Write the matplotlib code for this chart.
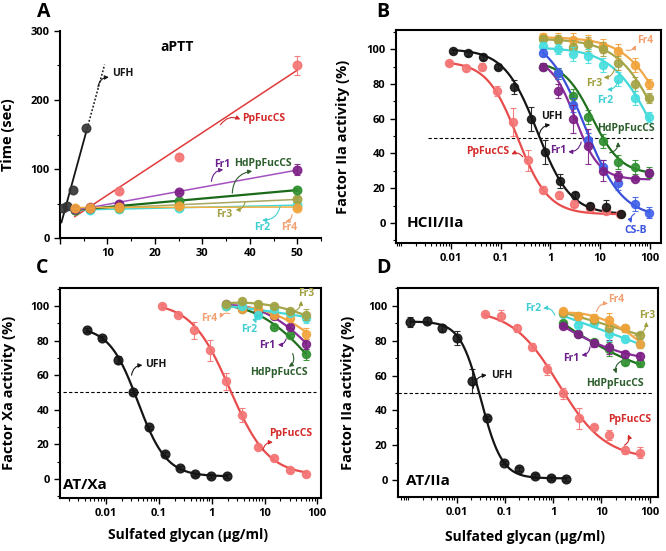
import numpy as np
import matplotlib
matplotlib.use('Agg')
import matplotlib.pyplot as plt
from matplotlib.ticker import FixedLocator, FixedFormatter, NullFormatter

plt.rcParams['font.family'] = ['Open Sans', 'DejaVu Sans']
plt.rcParams['font.weight'] = 'bold'
plt.rcParams['axes.labelweight'] = 'bold'
plt.rcParams['axes.linewidth'] = 1.5

# ---------------- Panel A (aPTT) ----------------
a_ufh_x = [0.6, 1.5, 2.7, 5.5]
a_ufh_y = [43, 46, 70, 160]
a_ufh_ext = 9.4
a_conc = [3.125, 6.25, 12.5, 25, 50]
a_pp = [42, 45, 68, 118, 250]
a_pp_err = [0, 0, 3, 4, 14]
a_fr1 = [42, 44, 50, 67, 99]
a_fr1_err = [0, 0, 2, 2, 8]
a_hd = [41, 43, 46, 53, 70]
a_hd_err = [0, 0, 1, 2, 2]
a_fr3 = [41, 43, 44, 48, 56]
a_fr3_err = [0, 0, 1, 1, 4]
a_fr2 = [41, 41, 42, 43, 48]
a_fr2_err = [0, 0, 1, 1, 2]
a_fr4 = [43, 44, 45, 46, 44]
a_fr4_err = [0, 0, 1, 1, 2]

# ---------------- Panel B (HCII/IIa) ----------------
b_ufh_x = [0.011, 0.022, 0.045, 0.09, 0.19, 0.4, 0.8, 1.6, 3.2, 6.4, 13, 26]
b_ufh_y = [99, 97.5, 95.5, 90, 78, 60, 41, 24, 16, 10, 9, 5]
b_ufh_err = [1, 1.5, 1.5, 1.5, 4, 7, 7, 4, 2, 1.5, 4, 1]
b_pp_x = [0.0093, 0.020, 0.042, 0.085, 0.177, 0.355, 0.71, 1.47, 2.96, 6.2, 13, 25.8]
b_pp_y = [92, 89, 90, 76, 58, 36, 19, 16, 11, 8.5, 7, 5]
b_pp_err = [1, 1.5, 2, 3, 8, 6, 2, 2, 2, 1.5, 1.5, 1]
b_frac_x = [0.70, 1.45, 2.9, 5.8, 11.7, 23.5, 51, 99]
b_fr4 = [107, 106, 105, 104, 102, 99, 91, 80]
b_fr3 = [106, 105, 101, 103, 100, 92, 80, 72]
b_fr2 = [102, 100, 97, 96, 91, 83, 72, 61]
b_csb = [98, 86, 68, 48, 32, 23, 11, 6]
b_fr1 = [90, 76, 60, 44, 30, 27, 25.5, 29]
b_hd = [90, 86, 73, 61, 47, 35, 32, 29]
b_frac_err = [2, 3, 4, 4, 4, 4, 4, 3]
b_fr1_err = [2, 4, 8, 10, 6, 3, 1, 2]
# 4-parameter logistic fits: top, bottom, IC50, Hill slope
b_fit_ufh = (100, 5, 0.55, 1.3)
b_fit_pp = (93, 5, 0.22, 1.4)
b_fit_fr4 = (107, 0, 300, 1.0)
b_fit_fr3 = (106, 0, 190, 1.0)
b_fit_fr2 = (101, 0, 140, 1.0)
b_fit_csb = (108, 3, 5, 1.15)
b_fit_fr1 = (95, 25, 3.2, 1.8)
b_fit_hd = (93, 28, 7, 1.5)

# ---------------- Panel C (AT/Xa) ----------------
c_ufh_x = [0.0044, 0.0085, 0.017, 0.033, 0.065, 0.13, 0.25, 0.49, 0.99, 1.95]
c_ufh_y = [86, 81.5, 69, 50.4, 29.8, 14.4, 6.5, 2.7, 1.7, 1.7]
c_ufh_err = [1, 1, 2, 1, 1, 1, 1, 1, 1, 1]
c_pp_x = [0.117, 0.234, 0.47, 0.94, 1.875, 3.75, 7.5, 15, 30, 60]
c_pp_y = [100, 95, 86, 74.4, 56.5, 37, 18.6, 12, 5, 2.7]
c_pp_err = [1, 1, 5, 6, 5, 4, 1, 1, 1, 1]
c_fit_ufh = (88, 1.5, 0.04, 1.6)
c_fit_pp = (102, 2, 2.2, 1.2)
c_frac_x = [1.875, 3.75, 7.5, 15, 30, 60]
c_fr3 = [101, 103, 101, 100, 97, 95]
c_fr2 = [100, 100, 95, 98, 96, 93]
c_fr4 = [100, 98, 98, 95, 93, 84]
c_fr1 = [101, 99, 97, 94, 88, 78]
c_hd = [100, 98, 96, 88, 83, 72]
c_frac_err = [1, 1, 2, 1, 1, 3]

# ---------------- Panel D (AT/IIa) ----------------
d_ufh_x = [0.0011, 0.0024, 0.0049, 0.0103, 0.021, 0.043, 0.095, 0.2, 0.42, 0.88, 1.8]
d_ufh_y = [90.8, 91.4, 87, 81.6, 56.8, 35.8, 10, 6.3, 2.3, 1.3, 0.6]
d_ufh_err = [3, 2, 2, 4, 7, 1, 1, 1, 1, 1, 1]
d_pp_x = [0.039, 0.083, 0.174, 0.37, 0.76, 1.61, 3.4, 6.9, 14.4, 30, 64]
d_pp_y = [95, 94.3, 87, 76.5, 63.5, 49.7, 35.4, 30.6, 25.8, 17.2, 15.7]
d_pp_err = [1, 3, 2, 2, 3, 3, 6, 1, 3, 2, 3]
d_fit_ufh = (91, 1, 0.032, 2.0)
d_fit_pp = (98, 12, 1.3, 0.9)
d_frac_x = [1.56, 3.3, 6.9, 14.4, 30, 64]
d_fr4 = [97, 94, 93, 92, 87, 78]
d_fr3 = [96, 94, 92, 87, 87, 83]
d_fr2 = [95, 89, 90, 84, 81, 78]
d_fr1 = [88.5, 83.6, 78.4, 76.5, 72.3, 71]
d_hd = [90, 84, 79, 75, 68, 67]
d_frac_err = [1, 1, 2, 4, 2, 2]

# ---------------- colours ----------------
C_UFH = '#151515'
C_PP_M, C_PP_L, C_PP_T = '#f47474', '#e84c4c', '#d42a2a'
C_FR1_M, C_FR1_L, C_FR1_T = '#7d1f86', '#8a2d9a', '#6a1f8a'
C_HD_M, C_HD_L, C_HD_T = '#2f8f2f', '#1f6f1f', '#2d5e2d'
C_FR3_M, C_FR3_L, C_FR3_T = '#a3a344', '#a5a54a', '#a0a040'
C_FR2_M, C_FR2_L, C_FR2_T = '#46dede', '#44d8d8', '#3fcfd0'
C_FR4_M, C_FR4_L, C_FR4_T = '#f2a33a', '#f0a848', '#f2a070'
C_CSB_M, C_CSB_L, C_CSB_T = '#4060e8', '#3a50d8', '#3a55e0'

LAB_FS = 10.5


def logistic(x, p):
    top, bottom, ic50, h = p
    x = np.asarray(x, dtype=float)
    return bottom + (top - bottom) / (1.0 + (x / ic50) ** h)


def pts(ax, x, y, err, mc, ms=5.8, z=3, alpha=0.9):
    ax.errorbar(x, y, yerr=err, fmt='o', ms=ms, mfc=mc, mec=mc, ecolor=mc,
                elinewidth=0.8, capsize=2, capthick=0.8, alpha=alpha, zorder=z)


def label(ax, text, pos, tail, head, color, rad=0.35, fs=7.5, ha='center'):
    ax.text(pos[0], pos[1], text, color=color, fontsize=fs, ha=ha, va='center',
            fontweight='bold', zorder=10)
    ax.annotate('', xy=head, xytext=tail,
                arrowprops=dict(arrowstyle='-|>', color=color, lw=0.8,
                                mutation_scale=6, shrinkA=0, shrinkB=0,
                                connectionstyle='arc3,rad=%s' % rad), zorder=10)


def log_axis(ax, xlim):
    ax.set_xscale('log')
    ax.set_xlim(*xlim)
    majors = [0.01, 0.1, 1, 10, 100]
    ax.xaxis.set_major_locator(FixedLocator(majors))
    ax.xaxis.set_major_formatter(FixedFormatter(['0.01', '0.1', '1', '10', '100']))
    minors = [m * 10.0 ** k for k in range(-4, 3) for m in range(1, 10)
              if not (m == 1 and k >= -2)]
    ax.xaxis.set_minor_locator(FixedLocator(minors))
    ax.xaxis.set_minor_formatter(NullFormatter())
    ax.yaxis.set_major_locator(FixedLocator([0, 20, 40, 60, 80, 100]))
    ax.yaxis.set_minor_locator(FixedLocator([-10, 10, 30, 50, 70, 90, 110]))
    ax.tick_params(which='major', direction='out', length=4, width=1.0,
                   labelsize=8, top=False, right=False)
    ax.tick_params(which='minor', direction='out', length=2.2, width=0.8,
                   top=False, right=False)


def curve(ax, xmin, xmax, p, color, lw=1.6, z=2):
    xx = np.logspace(np.log10(xmin), np.log10(xmax), 200)
    ax.plot(xx, logistic(xx, p), color=color, lw=lw, zorder=z)


def poly_curve(ax, x, y, color, lw=1.6, z=2):
    lx = np.log10(x)
    c = np.polyfit(lx, y, 2)
    xx = np.linspace(lx[0], lx[-1], 100)
    ax.plot(10 ** xx, np.polyval(c, xx), color=color, lw=lw, zorder=z)


fig = plt.figure(figsize=(6.66, 5.51), dpi=100)
W, H = 666.0, 551.0
axA = fig.add_axes([60 / W, 1 - 238 / H, 261 / W, 207 / H])
axB = fig.add_axes([396 / W, 1 - 243 / H, 265 / W, 213 / H])
axC = fig.add_axes([60 / W, 1 - 498 / H, 261 / W, 210 / H])
axD = fig.add_axes([398 / W, 1 - 497 / H, 260 / W, 209 / H])

# ================= A =================
ax = axA
ax.set_xlim(0, 55)
ax.set_ylim(0, 300)
ax.spines['top'].set_visible(False)
ax.spines['right'].set_visible(False)
ax.xaxis.set_major_locator(FixedLocator([0, 10, 20, 30, 40, 50]))
ax.xaxis.set_major_formatter(FixedFormatter(['', '10', '20', '30', '40', '50']))
ax.xaxis.set_minor_locator(FixedLocator([5, 15, 25, 35, 45, 55]))
ax.yaxis.set_major_locator(FixedLocator([0, 100, 200, 300]))
ax.yaxis.set_minor_locator(FixedLocator([50, 150, 250]))
ax.tick_params(which='major', direction='out', length=4, width=1.0, labelsize=8)
ax.tick_params(which='minor', direction='out', length=2.5, width=0.8)

ca = np.polyfit(a_ufh_x, a_ufh_y, 1)
xs = np.linspace(0.3, a_ufh_x[-1], 20)
ax.plot(xs, np.polyval(ca, xs), color=C_UFH, lw=1.3, zorder=2)
xs = np.linspace(a_ufh_x[-1], a_ufh_ext, 20)
ax.plot(xs, np.polyval(ca, xs), color=C_UFH, lw=1.1, ls=(0, (1.2, 1.2)), zorder=2)
pts(ax, a_ufh_x, a_ufh_y, None, '#333333', ms=6.2)

series_A = [(a_pp, a_pp_err, C_PP_M, '#e03a3a', 1.1),
            (a_fr2, a_fr2_err, C_FR2_M, C_FR2_L, 1.1),
            (a_fr3, a_fr3_err, C_FR3_M, '#a8a860', 1.1),
            (a_hd, a_hd_err, C_HD_M, '#1a6a1a', 1.6),
            (a_fr1, a_fr1_err, C_FR1_M, '#a550c0', 1.1),
            (a_fr4, a_fr4_err, C_FR4_M, '#f0b040', 1.1)]
for i, (vals, err, mc, lc, lw) in enumerate(series_A):
    cf = np.polyfit(a_conc, vals, 1)
    xs = np.linspace(a_conc[0], a_conc[-1], 20)
    ax.plot(xs, np.polyval(cf, xs), color=lc, lw=lw, zorder=2 + i * 0.1)
    pts(ax, a_conc, vals, err, mc, ms=6.2, z=3 + i * 0.1)

ax.text(24.7, 277, 'aPTT', fontsize=10, ha='center', va='center')
label(ax, 'UFH', (10.9, 238), (8.0, 219), (10.3, 233), C_UFH, rad=-0.4, ha='left')
label(ax, 'PpFucCS', (38.4, 173), (33.8, 164), (38.0, 172), C_PP_T, rad=-0.4, ha='left')
label(ax, 'Fr1', (34.2, 107), (31.9, 82), (34.4, 99), C_FR1_T, rad=-0.4)
label(ax, 'HdPpFucCS', (42.7, 108), (36.3, 65), (40.5, 97), C_HD_T, rad=-0.4)
label(ax, 'Fr3', (34.5, 34), (39.0, 52), (37.0, 41), C_FR3_T, rad=-0.4)
label(ax, 'Fr2', (42.6, 14.5), (46.4, 46), (42.6, 26), C_FR2_T, rad=-0.4)
label(ax, 'Fr4', (48.2, 14.5), (48.9, 34), (47.5, 24), C_FR4_T, rad=-0.4)
ax.set_ylabel('Time (sec)', fontsize=LAB_FS)
ax.yaxis.set_label_coords(-0.172, 0.5)

# ================= B =================
ax = axB
log_axis(ax, (7.8e-4, 170))
ax.set_ylim(-11.5, 111)
ax.axhline(49, xmin=0.12, xmax=0.97, color='k', lw=0.8, ls=(0, (3, 2)), zorder=1)
curve(ax, 0.011, 28, b_fit_ufh, C_UFH)
curve(ax, 0.0093, 26, b_fit_pp, C_PP_L)
pts(ax, b_pp_x, b_pp_y, b_pp_err, C_PP_M)
pts(ax, b_ufh_x, b_ufh_y, b_ufh_err, C_UFH)
fracB = [(b_fr4, b_fit_fr4, C_FR4_M, C_FR4_L, b_frac_err),
         (b_fr3, b_fit_fr3, C_FR3_M, C_FR3_L, b_frac_err),
         (b_fr2, b_fit_fr2, C_FR2_M, C_FR2_L, b_frac_err),
         (b_hd, b_fit_hd, C_HD_M, C_HD_L, b_frac_err),
         (b_csb, b_fit_csb, C_CSB_M, C_CSB_L, b_frac_err),
         (b_fr1, b_fit_fr1, C_FR1_M, C_FR1_L, b_fr1_err)]
for i, (vals, fit, mc, lc, err) in enumerate(fracB):
    curve(ax, b_frac_x[0], b_frac_x[-1], fit, lc, z=2 + i * 0.1)
    pts(ax, b_frac_x, vals, err, mc, z=3 + i * 0.1)
label(ax, 'UFH', (1.06, 61), (0.59, 49.5), (1.0, 56.5), C_UFH, rad=-0.4)
label(ax, 'PpFucCS', (0.055, 41), (0.28, 38), (0.165, 39.5), C_PP_T, rad=0.4)
label(ax, 'Fr1', (1.43, 41.5), (4.2, 46.6), (2.3, 41), C_FR1_T, rad=-0.4)
label(ax, 'HdPpFucCS', (34, 54.3), (15.7, 40.3), (23.2, 46.6), C_HD_T, rad=0.4)
label(ax, 'Fr2', (12.9, 70.6), (23.2, 82), (13.9, 76.8), C_FR2_T, rad=-0.4)
label(ax, 'Fr3', (7.5, 80.2), (19.8, 89), (11.9, 83.7), C_FR3_T, rad=-0.4)
label(ax, 'Fr4', (80, 105.2), (34, 99.4), (52.7, 102.3), C_FR4_T, rad=0.4)
label(ax, 'CS-B', (51.8, -4.2), (50.3, 5.4), (43, 0), C_CSB_T, rad=0.4)
ax.text(0.04, 0.095, 'HCII/IIa', transform=ax.transAxes, fontsize=11,
        ha='left', va='center')
ax.set_ylabel('Factor IIa activity (%)', fontsize=LAB_FS)
ax.yaxis.set_label_coords(-0.174, 0.5)

# ================= C =================
ax = axC
log_axis(ax, (0.00135, 117))
ax.set_ylim(-11, 110.4)
ax.axhline(50, xmin=0.01, xmax=0.98, color='k', lw=0.8, ls=(0, (3, 2)), zorder=1)
curve(ax, 0.0044, 1.95, c_fit_ufh, C_UFH)
curve(ax, 0.117, 60, c_fit_pp, C_PP_L)
pts(ax, c_ufh_x, c_ufh_y, c_ufh_err, C_UFH, ms=6.3)
pts(ax, c_pp_x, c_pp_y, c_pp_err, C_PP_M)
fracC = [(c_hd, C_HD_M, C_HD_L), (c_fr1, C_FR1_M, C_FR1_L),
         (c_fr4, C_FR4_M, C_FR4_L), (c_fr2, C_FR2_M, C_FR2_L),
         (c_fr3, C_FR3_M, C_FR3_L)]
for i, (vals, mc, lc) in enumerate(fracC):
    poly_curve(ax, c_frac_x, vals, lc, z=2 + i * 0.1)
    pts(ax, c_frac_x, vals, c_frac_err, mc, z=3 + i * 0.1)
label(ax, 'UFH', (0.055, 66), (0.0305, 60), (0.049, 65.8), C_UFH, rad=-0.4, ha='left')
label(ax, 'PpFucCS', (12.4, 26.3), (9.3, 16.7), (14.4, 21.2), C_PP_T, rad=-0.4, ha='left')
label(ax, 'HdPpFucCS', (18.6, 61.5), (34, 72.5), (28.7, 64.8), C_HD_T, rad=-0.4)
label(ax, 'Fr1', (11.1, 76.9), (25.6, 81), (17.9, 77.7), C_FR1_T, rad=-0.4)
label(ax, 'Fr2', (5.06, 86.5), (7.4, 95), (7.0, 90), C_FR2_T, rad=0.3)
label(ax, 'Fr4', (0.89, 92.7), (2.19, 95.6), (1.42, 93), C_FR4_T, rad=0.4)
label(ax, 'Fr3', (61, 107.5), (31.8, 96.5), (49.4, 103), C_FR3_T, rad=0.4)
ax.text(0.012, 0.063, 'AT/Xa', transform=ax.transAxes, fontsize=11,
        ha='left', va='center')
ax.set_ylabel('Factor Xa activity (%)', fontsize=LAB_FS)
ax.yaxis.set_label_coords(-0.169, 0.5)
ax.set_xlabel('Sulfated glycan (µg/ml)', fontsize=10)
ax.xaxis.set_label_coords(0.49, -0.143)

# ================= D =================
ax = axD
log_axis(ax, (0.00061, 148))
ax.set_ylim(-9.7, 110.2)
ax.axhline(50, xmin=0.0, xmax=0.98, color='k', lw=0.8, ls=(0, (3, 2)), zorder=1)
curve(ax, 0.0011, 1.8, d_fit_ufh, C_UFH)
curve(ax, 0.039, 64, d_fit_pp, C_PP_L)
pts(ax, d_ufh_x, d_ufh_y, d_ufh_err, C_UFH, ms=6.3)
pts(ax, d_pp_x, d_pp_y, d_pp_err, C_PP_M)
fracD = [(d_hd, C_HD_M, C_HD_L), (d_fr1, C_FR1_M, C_FR1_L),
         (d_fr2, C_FR2_M, C_FR2_L), (d_fr3, C_FR3_M, C_FR3_L),
         (d_fr4, C_FR4_M, C_FR4_L)]
for i, (vals, mc, lc) in enumerate(fracD):
    poly_curve(ax, d_frac_x, vals, lc, z=2 + i * 0.1)
    pts(ax, d_frac_x, vals, d_frac_err, mc, z=3 + i * 0.1)
label(ax, 'UFH', (0.088, 60.2), (0.022, 52.6), (0.042, 60.2), C_UFH, rad=-0.4)
label(ax, 'PpFucCS', (38.5, 35), (30, 20), (35.5, 26.2), C_PP_T, rad=0.4)
label(ax, 'Fr2', (0.385, 98.5), (1.08, 94.6), (0.62, 98.5), C_FR2_T, rad=0.4)
label(ax, 'Fr4', (20.5, 103.8), (7.9, 96.6), (13.7, 101.3), C_FR4_T, rad=-0.4)
label(ax, 'Fr3', (89, 94.6), (49, 83), (85, 90.8), C_FR3_T, rad=0.4)
label(ax, 'Fr1', (2.4, 69.8), (5.8, 76.5), (3.86, 71.7), C_FR1_T, rad=-0.4)
label(ax, 'HdPpFucCS', (18.9, 55.4), (25.6, 68.3), (20.4, 61.2), C_HD_T, rad=0.4)
ax.text(0.03, 0.075, 'AT/IIa', transform=ax.transAxes, fontsize=11,
        ha='left', va='center')
ax.set_ylabel('Factor IIa activity (%)', fontsize=LAB_FS)
ax.yaxis.set_label_coords(-0.165, 0.5)
ax.set_xlabel('Sulfated glycan (µg/ml)', fontsize=10)
ax.xaxis.set_label_coords(0.49, -0.158)

# panel letters
for t, px, py in [('A', 44, 12), ('B', 383, 12), ('C', 42, 268), ('D', 383, 268)]:
    fig.text(px / W, 1 - py / H, t, fontsize=14, fontweight='bold',
             ha='center', va='center')

fig.savefig('out.png', dpi=100)
